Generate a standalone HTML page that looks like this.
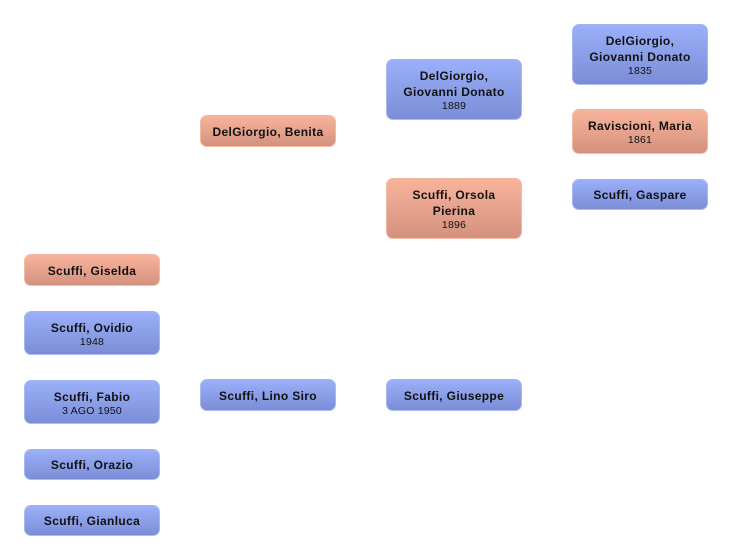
<!DOCTYPE html>
<html><head><meta charset="utf-8"><style>
html,body{margin:0;padding:0;background:#fff;width:732px;height:560px;overflow:hidden;}
.b{position:absolute;width:136px;border-radius:7px;display:flex;flex-direction:column;align-items:center;justify-content:center;text-align:center;font-family:"Liberation Sans","DejaVu Sans",sans-serif;color:#111;box-sizing:border-box;padding-top:1px;}
.m{background:linear-gradient(#9bb0fa,#7b8dd6);border:1px solid rgba(175,190,245,0.8);}
.f{background:linear-gradient(#f9b39b,#d3927f);border:1px solid rgba(245,190,170,0.8);}
.n{font-weight:bold;font-size:12px;line-height:16px;letter-spacing:0.35px;}
.y{font-size:10.5px;line-height:12px;letter-spacing:0.2px;}
</style></head><body>
<div class="b f" style="left:24px;top:254px;height:32px"><div class="n">Scuffi, Giselda</div></div>
<div class="b m" style="left:24px;top:311px;height:44px"><div class="n">Scuffi, Ovidio</div><div class="y">1948</div></div>
<div class="b m" style="left:24px;top:380px;height:44px"><div class="n">Scuffi, Fabio</div><div class="y">3 AGO 1950</div></div>
<div class="b m" style="left:24px;top:449px;height:31px"><div class="n">Scuffi, Orazio</div></div>
<div class="b m" style="left:24px;top:505px;height:31px"><div class="n">Scuffi, Gianluca</div></div>

<div class="b f" style="left:200px;top:115px;height:32px"><div class="n">DelGiorgio, Benita</div></div>
<div class="b m" style="left:200px;top:379px;height:32px"><div class="n">Scuffi, Lino Siro</div></div>

<div class="b m" style="left:386px;top:59px;height:61px"><div class="n">DelGiorgio,<br>Giovanni Donato</div><div class="y">1889</div></div>
<div class="b f" style="left:386px;top:178px;height:61px"><div class="n">Scuffi, Orsola<br>Pierina</div><div class="y">1896</div></div>
<div class="b m" style="left:386px;top:379px;height:32px"><div class="n">Scuffi, Giuseppe</div></div>

<div class="b m" style="left:572px;top:24px;height:61px"><div class="n">DelGiorgio,<br>Giovanni Donato</div><div class="y">1835</div></div>
<div class="b f" style="left:572px;top:109px;height:45px"><div class="n">Raviscioni, Maria</div><div class="y">1861</div></div>
<div class="b m" style="left:572px;top:179px;height:31px"><div class="n">Scuffi, Gaspare</div></div>
</body></html>
